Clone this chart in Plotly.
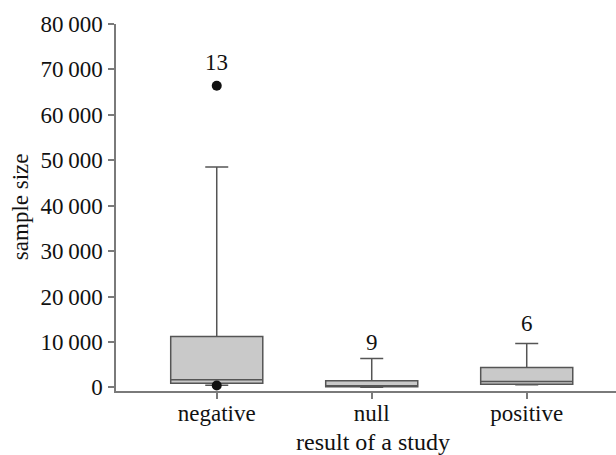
import plotly.graph_objects as go

categories = ["negative", "null", "positive"]
q1 = [930, 120, 700]
median = [1650, 330, 1300]
q3 = [11200, 1430, 4370]
lowerfence = [480, 30, 550]
upperfence = [48500, 6350, 9670]

outlier_x = ["negative", "negative"]
outlier_y = [66400, 420]

count_labels = ["13", "9", "6"]
count_label_y = [71500, 9900, 14000]

ytick_vals = [0, 10000, 20000, 30000, 40000, 50000, 60000, 70000, 80000]
ytick_text = ["0", "10\u2009000", "20\u2009000", "30\u2009000", "40\u2009000",
              "50\u2009000", "60\u2009000", "70\u2009000", "80\u2009000"]

FONT = "Liberation Serif"
TXT = "#111111"
AX = "#7a7a7a"

fig = go.Figure()
fig.add_trace(go.Box(
    x=categories, q1=q1, median=median, q3=q3,
    lowerfence=lowerfence, upperfence=upperfence,
    fillcolor="#c9c9c9", line=dict(color="#555555", width=1.5),
    width=0.594, whiskerwidth=0.25, boxpoints=False, showlegend=False,
    hoverinfo="skip",
))
fig.add_trace(go.Scatter(
    x=outlier_x, y=outlier_y, mode="markers",
    marker=dict(color="#111111", size=10), showlegend=False, hoverinfo="skip",
))
for c, t, yv in zip(categories, count_labels, count_label_y):
    fig.add_annotation(x=c, y=yv, text=t, showarrow=False,
                       font=dict(family=FONT, size=23, color=TXT),
                       xanchor="center", yanchor="middle")

fig.add_annotation(text="result of a study", xref="paper", yref="paper",
                   x=(373 - 116) / 500, y=-(442 - 390.7) / 366.7,
                   xanchor="center", yanchor="middle", showarrow=False,
                   font=dict(family=FONT, size=24, color=TXT))
fig.add_annotation(text="sample size", xref="paper", yref="paper",
                   x=-(116 - 20) / 500, y=(390.7 - 207) / 366.7, textangle=-90,
                   xanchor="center", yanchor="middle", showarrow=False,
                   font=dict(family=FONT, size=23, color=TXT))

fig.update_layout(
    width=616, height=455,
    margin=dict(l=116, r=0, t=24, b=64.3),
    paper_bgcolor="white", plot_bgcolor="white",
    font=dict(family=FONT, size=23, color=TXT),
    xaxis=dict(
        type="category", range=[-0.65, 2.576],
        showline=True, linecolor=AX, linewidth=1.5,
        ticks="outside", ticklen=6, tickcolor=AX, tickwidth=1.5,
        showgrid=False, zeroline=False, ticklabelstandoff=-5,
        tickfont=dict(family=FONT, size=23, color=TXT),
    ),
    yaxis=dict(
        range=[-800, 80000],
        tickvals=ytick_vals, ticktext=ytick_text,
        showline=True, linecolor=AX, linewidth=1.5,
        ticks="outside", ticklen=6, tickcolor=AX, tickwidth=1.5,
        showgrid=False, zeroline=False, ticklabelstandoff=1,
        tickfont=dict(family=FONT, size=23, color=TXT),
    ),
)

fig.write_html("out.html", config={"displayModeBar": False},
               post_script="document.body.style.margin='0';")
